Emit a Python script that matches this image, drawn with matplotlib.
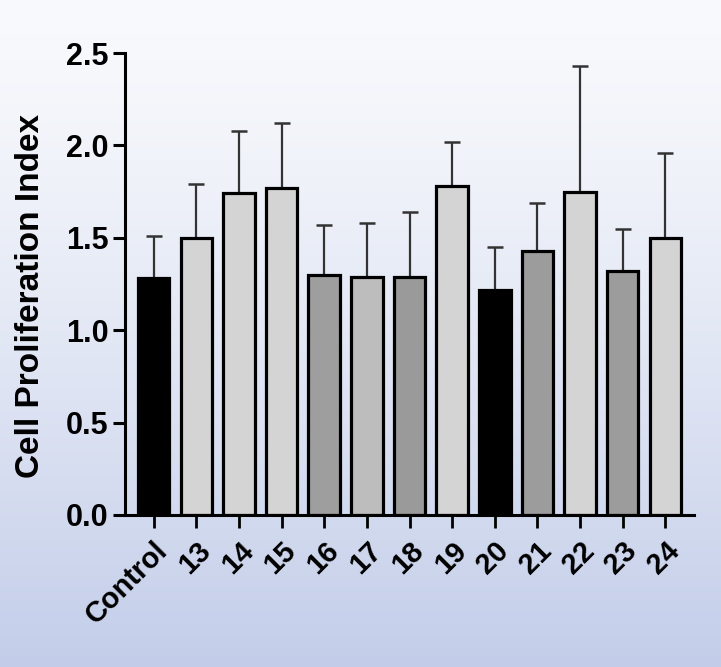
import numpy as np
import matplotlib.pyplot as plt

# Data
groups = ['Control', '13', '14', '15', '16', '17', '18', '19', '20', '21', '22', '23', '24']
means = [1.28, 1.50, 1.74, 1.77, 1.30, 1.29, 1.29, 1.78, 1.22, 1.43, 1.75, 1.32, 1.50]
sd = [0.23, 0.29, 0.34, 0.35, 0.27, 0.29, 0.35, 0.24, 0.23, 0.26, 0.68, 0.23, 0.46]
colors = ['#000000', '#d4d4d4', '#d4d4d4', '#d4d4d4', '#9e9e9e', '#bdbdbd', '#9a9a9a',
          '#d4d4d4', '#000000', '#9c9c9c', '#d4d4d4', '#9c9c9c', '#d4d4d4']

plt.rcParams['font.family'] = ['Liberation Sans', 'DejaVu Sans']
plt.rcParams['font.weight'] = 'bold'

fig = plt.figure(figsize=(7.21, 6.67), dpi=100)

# gradient background
bg = fig.add_axes([0, 0, 1, 1])
top = np.array([0.975, 0.980, 0.990])
bottom = np.array([0.765, 0.805, 0.915])
t = np.linspace(0, 1, 256)[:, None]
grad = top + (bottom - top) * t ** 1.3
bg.imshow(grad[:, None, :].repeat(2, axis=1), aspect='auto', extent=[0, 1, 0, 1])
bg.axis('off')

ax = fig.add_axes([0.173, 0.228, 0.79, 0.6925])
ax.patch.set_alpha(0)
x = np.arange(len(groups))
ax.errorbar(x, means, yerr=[np.zeros(len(sd)), sd], fmt='none', ecolor='#333333',
            elinewidth=1.6, capsize=5.5, capthick=1.8, zorder=1)
ax.bar(x, means, width=0.74, color=colors, edgecolor='black', linewidth=2.3, zorder=2)

ax.set_xlim(-0.68, len(groups) - 1 + 0.68)
ax.set_ylim(0, 2.5)
ax.set_yticks([0.0, 0.5, 1.0, 1.5, 2.0, 2.5])
ax.set_yticklabels(['0.0', '0.5', '1.0', '1.5', '2.0', '2.5'], fontsize=22, fontweight='bold')
ax.set_xticks(x)
ax.set_xticklabels(groups, rotation=45, ha='right', rotation_mode='anchor',
                   fontsize=21, fontweight='bold')
ax.set_ylabel('Cell Proliferation Index', fontsize=24, fontweight='bold')
ax.yaxis.set_label_coords(-0.138, 0.475)

for s in ['top', 'right']:
    ax.spines[s].set_visible(False)
for s in ['left', 'bottom']:
    ax.spines[s].set_linewidth(2.2)
ax.tick_params(axis='y', length=8.5, width=2.2, pad=3)
ax.tick_params(axis='x', length=9.5, width=2.0, pad=6)

fig.savefig('out.png', dpi=100)
